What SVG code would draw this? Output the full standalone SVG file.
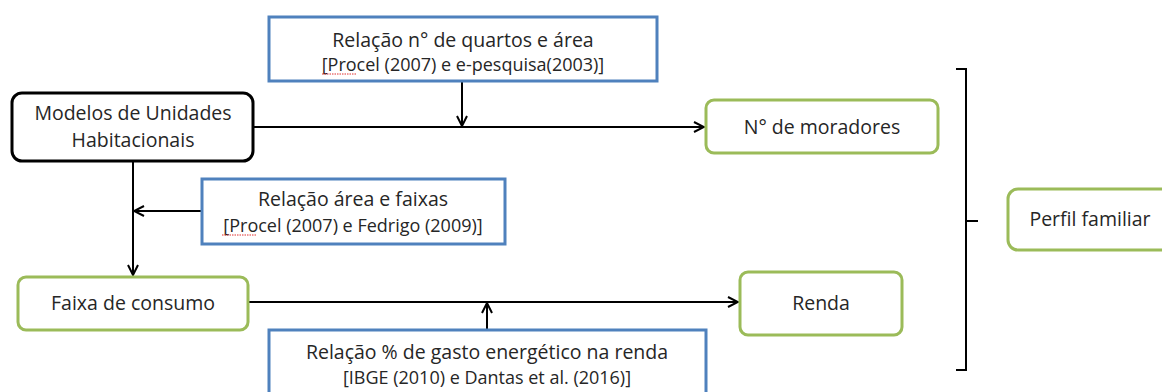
<svg xmlns="http://www.w3.org/2000/svg" width="1162" height="392" viewBox="0 0 1162 392">
<defs>
<marker id="arr" viewBox="0 0 12 12" refX="11" refY="6" markerWidth="12" markerHeight="12" markerUnits="userSpaceOnUse" orient="auto">
<path d="M1,1 L11,6 L1,11" fill="none" stroke="#000" stroke-width="2"/>
</marker>
<style>
text{font-family:"Open Sans","Noto Sans",sans-serif;fill:#262626;text-anchor:middle}
.t{font-size:19.5px}
.s{font-size:18px}
.blue{fill:#fff;stroke:#4f81bd;stroke-width:3}
.green{fill:#fff;stroke:#9bbb59;stroke-width:3}
.black{fill:#fff;stroke:#000;stroke-width:3}
.c{fill:none;stroke:#000;stroke-width:2}
.sq{fill:none;stroke:#e03030;stroke-width:1;stroke-dasharray:1.5 1}
</style>
</defs>
<g id="connectors">
<line class="c" x1="252" y1="127" x2="704" y2="127" marker-end="url(#arr)"/>
<line class="c" x1="462" y1="81" x2="462" y2="126" marker-end="url(#arr)"/>
<line class="c" x1="133" y1="161" x2="133" y2="275" marker-end="url(#arr)"/>
<line class="c" x1="202" y1="211" x2="134" y2="211" marker-end="url(#arr)"/>
<line class="c" x1="248" y1="302" x2="738" y2="302" marker-end="url(#arr)"/>
<line class="c" x1="487" y1="330" x2="487" y2="303" marker-end="url(#arr)"/>
<path class="c" d="M956,69 L966,69 L966,370 L956,370 M966,221 L978,221" stroke-width="3"/>
</g>
<g id="n-quartos">
<rect class="blue" x="269" y="17" width="388" height="64"/>
<text class="t" x="463" y="47">Relação n° de quartos e área</text>
<text class="s" x="463" y="71">[Procel (2007) e e-pesquisa(2003)]</text>
<path class="sq" d="M322,74 L357,74"/>
</g>
<g id="n-modelos">
<rect class="black" x="12" y="93" width="241" height="68" rx="10"/>
<text class="t" x="133" y="120">Modelos de Unidades</text>
<text class="t" x="133" y="147">Habitacionais</text>
</g>
<g id="n-moradores">
<rect class="green" x="706" y="100" width="232" height="53" rx="8"/>
<text class="t" x="822" y="134">N° de moradores</text>
</g>
<g id="n-area">
<rect class="blue" x="202" y="179" width="303" height="65"/>
<text class="t" x="353" y="206">Relação área e faixas</text>
<text class="s" x="353" y="232">[Procel (2007) e Fedrigo (2009)]</text>
<path class="sq" d="M222,235 L257,235"/>
</g>
<g id="n-faixa">
<rect class="green" x="18" y="277" width="230" height="53" rx="8"/>
<text class="t" x="133" y="310">Faixa de consumo</text>
</g>
<g id="n-renda">
<rect class="green" x="740" y="272" width="162" height="63" rx="8"/>
<text class="t" x="821" y="310">Renda</text>
</g>
<g id="n-gasto">
<rect class="blue" x="269" y="330" width="437" height="70"/>
<text class="t" x="487" y="359">Relação % de gasto energético na renda</text>
<text class="s" x="487" y="384">[IBGE (2010) e Dantas et al. (2016)]</text>
</g>
<g id="n-perfil">
<rect class="green" x="1008" y="189" width="170" height="61" rx="10"/>
<text class="t" x="1090" y="226">Perfil familiar</text>
</g>
</svg>
